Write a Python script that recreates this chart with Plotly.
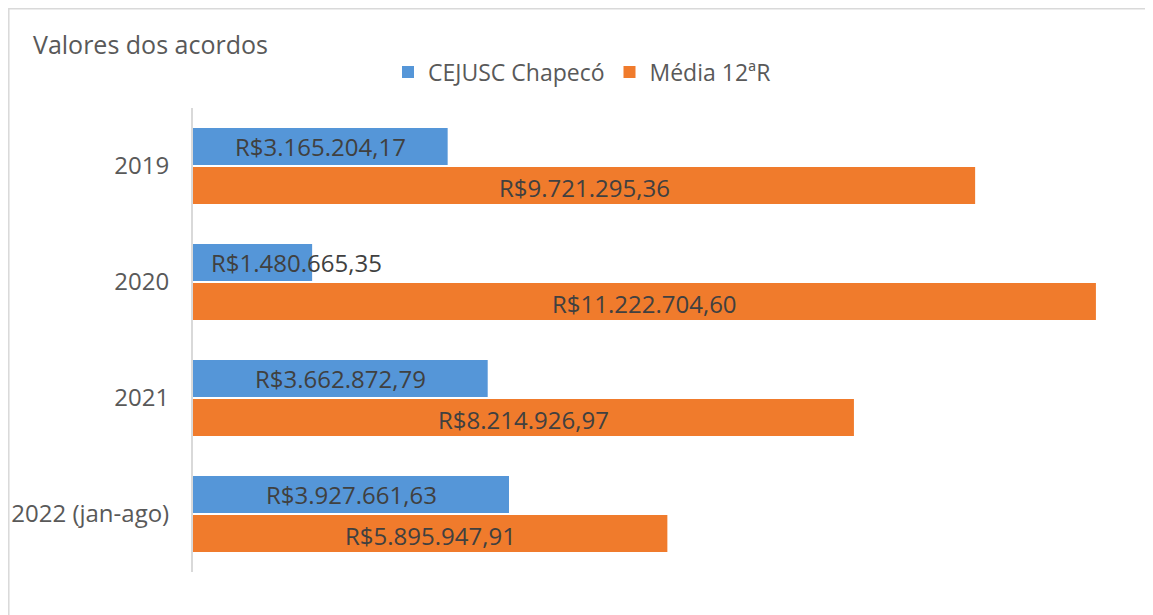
import plotly.graph_objects as go

categories = ["2019", "2020", "2021", "2022 (jan-ago)"]
cejusc = [3165204.17, 1480665.35, 3662872.79, 3927661.63]
media = [9721295.36, 11222704.60, 8214926.97, 5895947.91]
series_names = ["CEJUSC Chapecó", "Média 12ªR"]
title_text = "Valores dos acordos"

OFF = 8  # page body margin offset in the browser
W, H = 1153, 615
ML, MR, MT, MB = 193 - OFF, 13, 108 - OFF, 43 + OFF
XMAX = 11.87e6
plot_w = W - ML - MR
plot_h = H - MT - MB
px_per_unit = plot_w / XMAX

BLUE = "#5596d8"
ORANGE = "#f07b2c"
FONT = "Open Sans"
LABEL_SIZE = 24

positions = list(range(len(categories)))


def brl(v):
    s = f"{v:,.2f}"
    s = s.replace(",", "X").replace(".", ",").replace("X", ".")
    return "R$" + s


fig = go.Figure()
fig.add_trace(go.Bar(y=positions, x=cejusc, orientation="h", name=series_names[0],
                     marker=dict(color=BLUE, line=dict(width=0)), hoverinfo="skip"))
fig.add_trace(go.Bar(y=positions, x=media, orientation="h", name=series_names[1],
                     marker=dict(color=ORANGE, line=dict(width=0)), hoverinfo="skip"))

annotations = []
for vals, ysh in ((cejusc, 20), (media, -21)):
    for pos, v in zip(positions, vals):
        txt = brl(v)
        est_w = len(txt) * 12.2
        bar_w = v * px_per_unit
        if est_w < bar_w - 6:
            annotations.append(dict(x=v / 2, y=pos, xref="x", yref="y", text=txt,
                                    showarrow=False, xanchor="center", yanchor="middle",
                                    yshift=ysh, font=dict(family=FONT, size=LABEL_SIZE, color="#404040")))
        else:
            annotations.append(dict(x=0, y=pos, xref="x", yref="y", text=txt,
                                    showarrow=False, xanchor="left", yanchor="middle",
                                    xshift=16, yshift=ysh,
                                    font=dict(family=FONT, size=LABEL_SIZE, color="#404040")))


def px_x(p):
    return (p - OFF - ML) / plot_w


def px_y(p):
    return (H - MB - (p - OFF)) / plot_h


shapes = [dict(type="rect", xref="paper", yref="paper",
               x0=px_x(8.8), x1=px_x(W + 20), y0=px_y(H + 20), y1=px_y(8.8),
               line=dict(color="#d9d9d9", width=1.5), fillcolor="rgba(0,0,0,0)", layer="below")]

fig.update_layout(
    width=W, height=H,
    margin=dict(l=ML, r=MR, t=MT, b=MB, autoexpand=False),
    paper_bgcolor="white", plot_bgcolor="white",
    barmode="group", bargap=0.33, bargroupgap=0.05,
    title=dict(text=title_text, x=(33 - OFF) / W, xanchor="left", xref="container",
               y=1 - (45 - OFF) / H, yanchor="middle", yref="container",
               font=dict(family=FONT, size=25, color="#595959")),
    legend=dict(orientation="h", x=px_x(582), xanchor="center", y=px_y(72), yanchor="middle",
                font=dict(family=FONT, size=23, color="#595959"),
                itemwidth=30, traceorder="normal", bgcolor="rgba(0,0,0,0)"),
    xaxis=dict(range=[0, XMAX], showgrid=False, showticklabels=False, zeroline=False,
               showline=False, ticks="", automargin=False),
    yaxis=dict(range=[len(categories) - 0.5, -0.5], tickmode="array", tickvals=positions,
               ticktext=categories, showgrid=False, zeroline=False, showline=True,
               linecolor="#d9d9d9", linewidth=2, ticks="", ticklabelstandoff=17,
               automargin=False,
               tickfont=dict(family=FONT, size=24, color="#595959")),
    annotations=annotations,
    shapes=shapes,
    showlegend=True,
)

fig.write_html("out.html")
